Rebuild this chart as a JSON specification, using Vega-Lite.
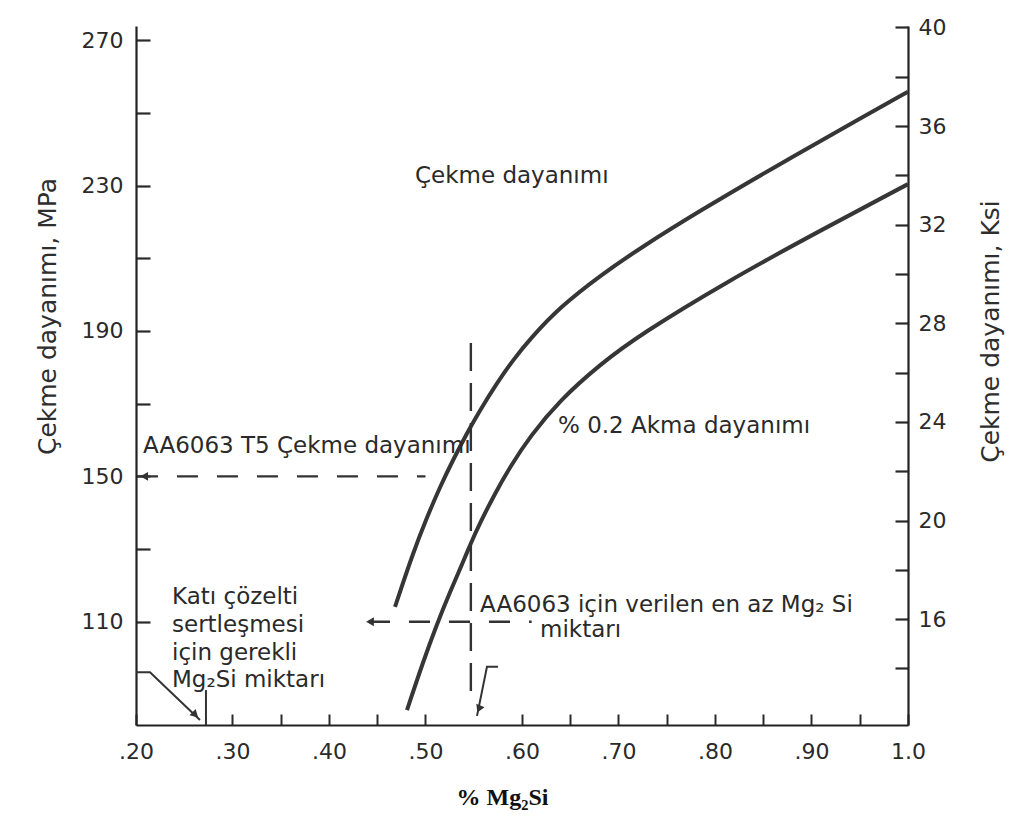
{
  "$schema": "https://vega.github.io/schema/vega-lite/v6.json",
  "width": 772,
  "height": 699,
  "autosize": {"type": "none"},
  "padding": {"left": 136, "top": 26, "right": 122, "bottom": 101},
  "background": "white",
  "config": {"view": {"stroke": null}, "font": "DejaVu Sans"},
  "datasets": {
    "curves": [
      {"series": "Çekme dayanımı", "x": 0.4684, "mpa": 114.1},
      {"series": "Çekme dayanımı", "x": 0.4870, "mpa": 128.9},
      {"series": "Çekme dayanımı", "x": 0.5016, "mpa": 138.8},
      {"series": "Çekme dayanımı", "x": 0.5150, "mpa": 147.1},
      {"series": "Çekme dayanımı", "x": 0.5285, "mpa": 154.5},
      {"series": "Çekme dayanımı", "x": 0.5430, "mpa": 161.9},
      {"series": "Çekme dayanımı", "x": 0.5565, "mpa": 168.2},
      {"series": "Çekme dayanımı", "x": 0.5741, "mpa": 175.7},
      {"series": "Çekme dayanımı", "x": 0.5907, "mpa": 182.0},
      {"series": "Çekme dayanımı", "x": 0.6083, "mpa": 187.8},
      {"series": "Çekme dayanımı", "x": 0.6394, "mpa": 196.6},
      {"series": "Çekme dayanımı", "x": 0.6808, "mpa": 205.2},
      {"series": "Çekme dayanımı", "x": 0.7223, "mpa": 212.8},
      {"series": "Çekme dayanımı", "x": 0.7845, "mpa": 223.1},
      {"series": "Çekme dayanımı", "x": 0.8674, "mpa": 236.0},
      {"series": "Çekme dayanımı", "x": 0.9575, "mpa": 249.5},
      {"series": "Çekme dayanımı", "x": 1.0, "mpa": 255.8},
      {"series": "% 0.2 Akma dayanımı", "x": 0.4808, "mpa": 85.7},
      {"series": "% 0.2 Akma dayanımı", "x": 0.4974, "mpa": 98.9},
      {"series": "% 0.2 Akma dayanımı", "x": 0.5119, "mpa": 109.4},
      {"series": "% 0.2 Akma dayanımı", "x": 0.5254, "mpa": 118.2},
      {"series": "% 0.2 Akma dayanımı", "x": 0.5389, "mpa": 126.4},
      {"series": "% 0.2 Akma dayanımı", "x": 0.5461, "mpa": 131.1},
      {"series": "% 0.2 Akma dayanımı", "x": 0.5565, "mpa": 137.2},
      {"series": "% 0.2 Akma dayanımı", "x": 0.5720, "mpa": 145.3},
      {"series": "% 0.2 Akma dayanımı", "x": 0.5876, "mpa": 152.6},
      {"series": "% 0.2 Akma dayanımı", "x": 0.6083, "mpa": 161.0},
      {"series": "% 0.2 Akma dayanımı", "x": 0.6394, "mpa": 171.0},
      {"series": "% 0.2 Akma dayanımı", "x": 0.6808, "mpa": 180.8},
      {"series": "% 0.2 Akma dayanımı", "x": 0.7223, "mpa": 189.0},
      {"series": "% 0.2 Akma dayanımı", "x": 0.8124, "mpa": 203.6},
      {"series": "% 0.2 Akma dayanımı", "x": 0.9088, "mpa": 217.6},
      {"series": "% 0.2 Akma dayanımı", "x": 1.0, "mpa": 230.4}
    ],
    "guideH": [
      {"seg": "t5", "i": 0, "x": 0.201, "mpa": 150},
      {"seg": "t5", "i": 1, "x": 0.500, "mpa": 150},
      {"seg": "solid", "i": 0, "x": 0.4415, "mpa": 110},
      {"seg": "solid", "i": 1, "x": 0.610, "mpa": 110}
    ],
    "guideV": [
      {"i": 0, "x": 0.547, "mpa": 186.7},
      {"i": 1, "x": 0.547, "mpa": 88}
    ],
    "leaders": [
      {"seg": "a", "i": 0, "x": 0.2, "mpa": 96.1},
      {"seg": "a", "i": 1, "x": 0.2145, "mpa": 96.1},
      {"seg": "a", "i": 2, "x": 0.2663, "mpa": 83.0},
      {"seg": "b", "i": 0, "x": 0.2725, "mpa": 91.2},
      {"seg": "b", "i": 1, "x": 0.2725, "mpa": 81.6},
      {"seg": "c", "i": 0, "x": 0.5751, "mpa": 97.6},
      {"seg": "c", "i": 1, "x": 0.5637, "mpa": 97.6},
      {"seg": "c", "i": 2, "x": 0.5534, "mpa": 84.1}
    ],
    "arrowsLeft": [
      {"x": 0.2085, "mpa": 150},
      {"x": 0.4425, "mpa": 110}
    ],
    "arrowSolution": [{"x": 0.2615, "mpa": 84.4}],
    "arrowMinimum": [{"x": 0.5553, "mpa": 86.0}],
    "notes": [
      {"label": "Çekme dayanımı", "x": 0.4891, "mpa": 230.6},
      {"label": "% 0.2 Akma dayanımı", "x": 0.6373, "mpa": 161.8},
      {"label": "AA6063 T5 Çekme dayanımı", "x": 0.2073, "mpa": 156.3},
      {"label": "Katı çözelti", "x": 0.2373, "mpa": 114.9},
      {"label": "sertleşmesi", "x": 0.2373, "mpa": 107.3},
      {"label": "için gerekli", "x": 0.2373, "mpa": 99.5},
      {"label": "Mg₂Si miktarı", "x": 0.2373, "mpa": 92.1},
      {"label": "AA6063 için verilen en az Mg₂ Si", "x": 0.5565, "mpa": 112.8},
      {"label": "miktarı", "x": 0.6187, "mpa": 105.8}
    ],
    "ksiEnds": [
      {"x": 1.0, "ksi": 37.5},
      {"x": 1.0, "ksi": 33.6}
    ]
  },
  "layer": [
    {
      "layer": [
        {
          "data": {"name": "curves"},
          "mark": {"type": "line", "strokeWidth": 4, "color": "#363636", "interpolate": "basis"},
          "encoding": {
            "x": {
              "field": "x", "type": "quantitative",
              "scale": {"domain": [0.2, 1.0], "nice": false, "zero": false},
              "axis": {
                "values": [0.2, 0.3, 0.35, 0.4, 0.45, 0.5, 0.6, 0.65, 0.7, 0.75, 0.8, 0.85, 0.9, 0.95, 1.0],
                "labelExpr": "datum.value >= 0.999 ? '1.0' : (round(datum.value * 100) % 10 == 0 ? slice(format(datum.value, '.2f'), 1) : '')",
                "grid": false,
                "tickSize": -11, "tickWidth": 2, "tickColor": "#2a2a2a",
                "domainColor": "#222222", "domainWidth": 2.2,
                "labelFont": "DejaVu Sans", "labelFontSize": 22, "labelColor": "#2a2a2a",
                "labelPadding": 27, "labelFlush": false, "labelOverlap": false,
                "title": "% Mg₂Si",
                "titleFont": "Liberation Serif", "titleFontWeight": "bold", "titleFontSize": 24,
                "titleColor": "#111111", "titleX": 366, "titleY": 72,
                "titleAlign": "center", "titleBaseline": "middle"
              }
            },
            "y": {
              "field": "mpa", "type": "quantitative",
              "scale": {"domain": [81.6, 273.9], "nice": false, "zero": false},
              "axis": {
                "values": [110, 130, 150, 170, 190, 210, 230, 250, 270],
                "labelExpr": "datum.value % 40 == 30 ? datum.label : ''",
                "grid": false,
                "tickSize": -14, "tickWidth": 2.2, "tickColor": "#2a2a2a",
                "domainColor": "#222222", "domainWidth": 2.2,
                "labelFont": "DejaVu Sans", "labelFontSize": 22, "labelColor": "#2a2a2a",
                "labelPadding": 27, "labelFlush": false, "labelOverlap": false,
                "title": "Çekme dayanımı, MPa",
                "titleFont": "DejaVu Sans", "titleFontWeight": "normal", "titleFontSize": 25,
                "titleColor": "#2e2e2e", "titleX": -89, "titleY": 290, "titleAngle": 270,
                "titleAlign": "center", "titleBaseline": "middle"
              }
            },
            "detail": {"field": "series", "type": "nominal"}
          }
        },
        {
          "data": {"name": "guideH"},
          "mark": {"type": "line", "strokeWidth": 2.4, "color": "#333333", "strokeDash": [21, 19]},
          "encoding": {
            "x": {"field": "x", "type": "quantitative"},
            "y": {"field": "mpa", "type": "quantitative"},
            "detail": {"field": "seg", "type": "nominal"},
            "order": {"field": "i", "type": "quantitative"}
          }
        },
        {
          "data": {"name": "guideV"},
          "mark": {"type": "line", "strokeWidth": 2.4, "color": "#333333", "strokeDash": [28, 12]},
          "encoding": {
            "x": {"field": "x", "type": "quantitative"},
            "y": {"field": "mpa", "type": "quantitative"},
            "order": {"field": "i", "type": "quantitative"}
          }
        },
        {
          "data": {"name": "leaders"},
          "mark": {"type": "line", "strokeWidth": 2, "color": "#333333"},
          "encoding": {
            "x": {"field": "x", "type": "quantitative"},
            "y": {"field": "mpa", "type": "quantitative"},
            "detail": {"field": "seg", "type": "nominal"},
            "order": {"field": "i", "type": "quantitative"}
          }
        },
        {
          "data": {"name": "arrowsLeft"},
          "mark": {"type": "point", "shape": "triangle-left", "filled": true, "size": 80, "color": "#333333", "opacity": 1},
          "encoding": {
            "x": {"field": "x", "type": "quantitative"},
            "y": {"field": "mpa", "type": "quantitative"}
          }
        },
        {
          "data": {"name": "arrowSolution"},
          "mark": {"type": "point", "shape": "triangle-right", "angle": 44, "filled": true, "size": 80, "color": "#333333", "opacity": 1},
          "encoding": {
            "x": {"field": "x", "type": "quantitative"},
            "y": {"field": "mpa", "type": "quantitative"}
          }
        },
        {
          "data": {"name": "arrowMinimum"},
          "mark": {"type": "point", "shape": "triangle-right", "angle": 113, "filled": true, "size": 80, "color": "#333333", "opacity": 1},
          "encoding": {
            "x": {"field": "x", "type": "quantitative"},
            "y": {"field": "mpa", "type": "quantitative"}
          }
        },
        {
          "data": {"name": "notes"},
          "mark": {"type": "text", "align": "left", "baseline": "alphabetic", "font": "DejaVu Sans", "fontSize": 23, "color": "#2a2a2a"},
          "encoding": {
            "x": {"field": "x", "type": "quantitative"},
            "y": {"field": "mpa", "type": "quantitative"},
            "text": {"field": "label", "type": "nominal"}
          }
        }
      ]
    },
    {
      "data": {"name": "ksiEnds"},
      "mark": {"type": "point", "opacity": 0},
      "encoding": {
        "x": {"field": "x", "type": "quantitative"},
        "y": {
          "field": "ksi", "type": "quantitative",
          "scale": {"domain": [11.705, 40.06], "nice": false, "zero": false},
          "axis": {
            "orient": "right",
            "values": [14, 16, 18, 20, 22, 24, 26, 28, 30, 32, 34, 36, 38, 40],
            "labelExpr": "datum.value % 4 == 0 ? datum.label : ''",
            "grid": false,
            "tickSize": -13, "tickWidth": 2.2, "tickColor": "#2a2a2a",
            "domainColor": "#222222", "domainWidth": 2.2,
            "labelFont": "DejaVu Sans", "labelFontSize": 22, "labelColor": "#2a2a2a",
            "labelPadding": 23, "labelFlush": false, "labelOverlap": false,
            "title": "Çekme dayanımı, Ksi",
            "titleFont": "DejaVu Sans", "titleFontWeight": "normal", "titleFontSize": 25,
            "titleColor": "#2e2e2e", "titleX": 82, "titleY": 305, "titleAngle": 270,
            "titleAlign": "center", "titleBaseline": "middle"
          }
        }
      }
    }
  ],
  "resolve": {"scale": {"y": "independent"}, "axis": {"y": "independent"}}
}
